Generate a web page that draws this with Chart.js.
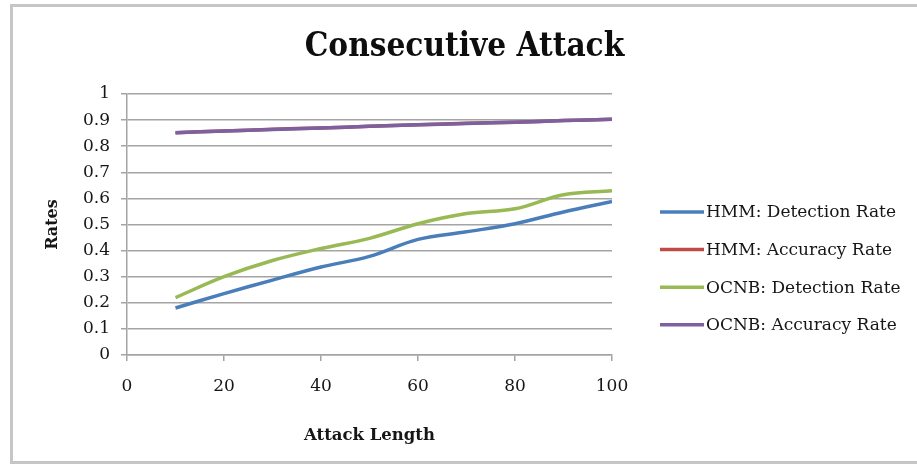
<!DOCTYPE html>
<html>
<head>
<meta charset="utf-8">
<title>Consecutive Attack</title>
<script src="https://cdn.jsdelivr.net/npm/chart.js@4/dist/chart.umd.min.js"></script>
<style>
  html, body { margin: 0; padding: 0; background: #ffffff; }
  body { width: 917px; height: 466px; position: relative; overflow: hidden; }
  .frame {
    position: absolute; left: 10px; top: 4px; width: 1000px; height: 460px;
    border: 3px solid #c6c6c6; box-sizing: border-box;
  }
  canvas { position: absolute; left: 0; top: 0; }
</style>
</head>
<body>
<div class="frame"></div>
<canvas id="chart" width="917" height="466"></canvas>
<script>
// Attack lengths sampled along the x axis
const attackLengths = [10, 20, 30, 40, 50, 60, 70, 80, 90, 100];

// Rates per attack length
const hmmDetection  = [0.180, 0.235, 0.287, 0.337, 0.378, 0.443, 0.472, 0.503, 0.548, 0.588];
const hmmAccuracy   = [0.852, 0.858, 0.865, 0.870, 0.876, 0.882, 0.888, 0.892, 0.898, 0.903];
const ocnbDetection = [0.220, 0.300, 0.362, 0.408, 0.447, 0.503, 0.542, 0.560, 0.614, 0.629];
const ocnbAccuracy  = [0.852, 0.858, 0.864, 0.870, 0.876, 0.882, 0.887, 0.892, 0.898, 0.903];

const seriesLabels = ['HMM: Detection Rate', 'HMM: Accuracy Rate', 'OCNB: Detection Rate', 'OCNB: Accuracy Rate'];
const seriesColors = ['#4a7ebb', '#be4b48', '#98b954', '#7d60a0'];

// Axis ticks
const xTickValues = [0, 20, 40, 60, 80, 100];
const xTickLabels = ['0', '20', '40', '60', '80', '100'];
const yTickValues = [0, 0.1, 0.2, 0.3, 0.4, 0.5, 0.6, 0.7, 0.8, 0.9, 1];
const yTickLabels = ['0', '0.1', '0.2', '0.3', '0.4', '0.5', '0.6', '0.7', '0.8', '0.9', '1'];

const SERIF = "'DejaVu Serif', serif";
const TITLE_SERIF = "'DejaVu Serif Condensed', 'DejaVu Serif', serif";
const GRID = '#a4a4a4';
const TEXT = '#161616';

const toPoints = vals => attackLengths.map((x, i) => ({ x, y: vals[i] }));

// Legend on the right: reserves a column beside the plot and draws line samples with labels
const sideLegend = {
  id: 'sideLegend',
  beforeInit(chart, args, opts) {
    Chart.layouts.addBox(chart, {
      position: 'right',
      weight: 1000,
      fullSize: false,
      options: {},
      isHorizontal() { return false; },
      update(maxWidth, maxHeight) {
        this.width = opts.width;
        this.height = maxHeight;
      },
      draw() {
        const ctx = chart.ctx;
        const top = chart.chartArea.top;
        ctx.save();
        ctx.font = opts.font;
        ctx.textBaseline = 'middle';
        ctx.textAlign = 'left';
        chart.data.datasets.forEach((ds, i) => {
          const y = top + opts.firstOffset + i * opts.spacing;
          const x0 = this.left + opts.indent;
          ctx.strokeStyle = ds.borderColor;
          ctx.lineWidth = 3.5;
          ctx.lineCap = 'butt';
          ctx.beginPath();
          ctx.moveTo(x0, y);
          ctx.lineTo(x0 + opts.sampleWidth, y);
          ctx.stroke();
          ctx.fillStyle = TEXT;
          ctx.fillText(ds.label, x0 + opts.sampleWidth + 2, y + 1);
        });
        ctx.restore();
      }
    });
  }
};

const makeDataset = (i, vals, order) => ({
  label: seriesLabels[i],
  data: toPoints(vals),
  borderColor: seriesColors[i],
  backgroundColor: seriesColors[i],
  borderWidth: 3.5,
  pointRadius: 0,
  pointHoverRadius: 0,
  tension: 0.35,
  fill: false,
  order
});

new Chart(document.getElementById('chart'), {
  type: 'line',
  data: {
    datasets: [
      makeDataset(0, hmmDetection, 1),
      makeDataset(1, hmmAccuracy, 2),
      makeDataset(2, ocnbDetection, 1),
      makeDataset(3, ocnbAccuracy, 0)
    ]
  },
  plugins: [sideLegend],
  options: {
    responsive: false,
    animation: false,
    devicePixelRatio: 1,
    layout: { padding: { left: 12, right: 0, top: 0, bottom: 0 } },
    plugins: {
      legend: { display: false },
      tooltip: { enabled: false },
      title: {
        display: true,
        text: 'Consecutive Attack',
        color: '#0e0e0e',
        font: { family: TITLE_SERIF, size: 33, weight: 'bold', lineHeight: 1.2 },
        padding: { top: 28, bottom: 26.4 }
      },
      sideLegend: {
        width: 305,
        indent: 48,
        sampleWidth: 44,
        firstOffset: 118,
        spacing: 37.6,
        font: "17px 'DejaVu Serif', serif"
      }
    },
    scales: {
      x: {
        type: 'linear',
        min: 0,
        max: 100,
        afterFit(scale) { scale.height = 111; },
        afterBuildTicks(scale) { scale.ticks = xTickValues.map(v => ({ value: v })); },
        ticks: {
          color: TEXT,
          font: { family: SERIF, size: 17 },
          padding: 15,
          maxRotation: 0,
          callback: (v, i) => xTickLabels[i]
        },
        grid: { drawOnChartArea: false, drawTicks: true, tickLength: 6, color: GRID, lineWidth: 1.5 },
        border: { display: true, color: GRID, width: 1.5 },
        title: {
          display: true,
          text: 'Attack Length',
          color: TEXT,
          font: { family: SERIF, size: 16.5, weight: 'bold' },
          padding: { top: 0, bottom: 20 }
        }
      },
      y: {
        type: 'linear',
        min: 0,
        max: 1,
        afterFit(scale) { scale.width = 115; },
        afterBuildTicks(scale) { scale.ticks = yTickValues.map(v => ({ value: v })); },
        ticks: {
          color: TEXT,
          font: { family: SERIF, size: 17 },
          padding: 11,
          callback: (v, i) => yTickLabels[i]
        },
        grid: { drawTicks: true, tickLength: 6, color: GRID, lineWidth: 1.5 },
        border: { display: true, color: GRID, width: 1.5 },
        title: {
          display: true,
          text: 'Rates',
          color: TEXT,
          font: { family: SERIF, size: 16, weight: 'bold' },
          padding: { top: 31, bottom: 0 }
        }
      }
    }
  }
});
</script>
</body>
</html>
